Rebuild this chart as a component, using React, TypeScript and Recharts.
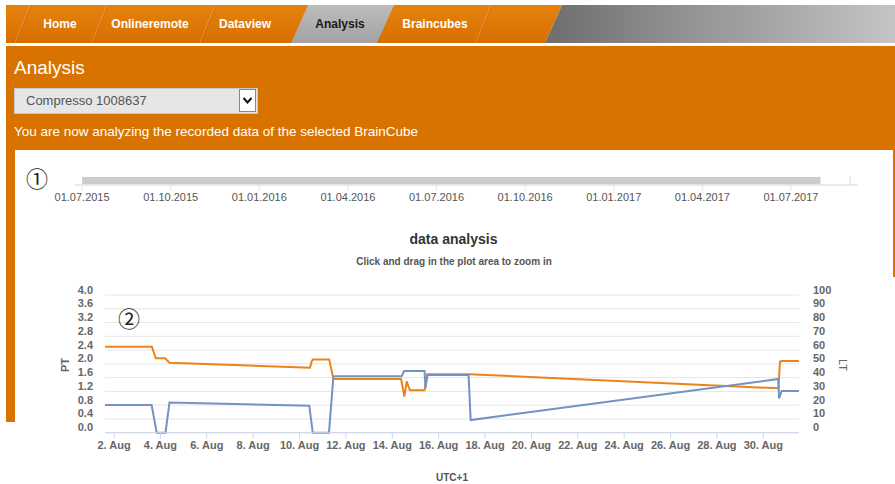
import React from 'react';
import {
  LineChart, Line, XAxis, YAxis, CartesianGrid, ComposedChart, Area,
  ReferenceLine, Label,
} from 'recharts';

// navigation tabs
const NAV_TABS = ['Home', 'Onlineremote', 'Dataview', 'Analysis', 'Braincubes'];

// navigator (months since 01.07.2015)
const NAV_MONTHS = [0, 3, 6, 9, 12, 15, 18, 21, 24];
const NAV_LABELS = ['01.07.2015', '01.10.2015', '01.01.2016', '01.04.2016', '01.07.2016', '01.10.2016', '01.01.2017', '01.04.2017', '01.07.2017'];
const NAV_RANGE = [0, 25];

// main chart, x = day of August (fractional)
const DAY_TICKS = [2, 4, 6, 8, 10, 12, 14, 16, 18, 20, 22, 24, 26, 28, 30];
const PT_TICKS = [0, 0.4, 0.8, 1.2, 1.6, 2.0, 2.4, 2.8, 3.2, 3.6, 4.0];
const LT_TICKS = [0, 10, 20, 30, 40, 50, 60, 70, 80, 90, 100];

const PT_TIME = [1.61, 3.63, 3.8, 4.2, 4.39, 10.45, 10.52, 10.57, 11.28, 11.46, 14.38, 14.52, 14.62, 14.76, 15.39, 15.5, 17.33, 30.65, 30.72, 30.79, 31.54];
const PT_VALUES = [2.5, 2.5, 2.16, 2.16, 2.03, 1.89, 2.06, 2.13, 2.13, 1.56, 1.56, 1.05, 1.49, 1.23, 1.23, 1.7, 1.7, 1.29, 2.06, 2.08, 2.08];

const LT_TIME = [1.61, 3.62, 3.73, 3.84, 4.22, 4.39, 10.42, 10.57, 11.27, 11.46, 14.4, 14.51, 15.39, 15.43, 15.52, 17.29, 17.38, 30.65, 30.68, 30.79, 31.54];
const LT_VALUES = [20.1, 20.1, 10, 0, 0, 21.9, 19.6, 0, 0, 41, 41, 44.8, 44.8, 32.3, 41.9, 41.9, 9.2, 39, 24.9, 30.3, 30.3];

const ptData = PT_TIME.map((t, i) => ({ t, v: PT_VALUES[i] }));
const ltData = LT_TIME.map((t, i) => ({ t, v: LT_VALUES[i] }));
const navBand = NAV_RANGE.map(m => ({ m, band: [0.1, 1] }));

const ORANGE = '#d97300';
const FONT = '"Liberation Sans", Arial, sans-serif';

const PtTick = (props: any) => {
  const { x, y, payload } = props;
  return (
    <text x={x} y={y - 1.5} textAnchor="end" fill="#666" fontSize={11} fontWeight="bold">
      {Number(payload.value).toFixed(1)}
    </text>
  );
};

const LtTick = (props: any) => {
  const { x, y, payload } = props;
  return (
    <text x={x} y={y - 1.5} textAnchor="start" fill="#666" fontSize={11} fontWeight="bold">
      {payload.value}
    </text>
  );
};

const NavBar = () => {
  const tabX = [60, 150, 245, 340, 435];
  const dividers = [30, 107, 215, 491];
  return (
    <svg width={895} height={43} style={{ position: 'absolute', left: 0, top: 0 }}>
      <defs>
        <linearGradient id="navOrange" x1="0" y1="0" x2="0" y2="1">
          <stop offset="0" stopColor="#e5820f" />
          <stop offset="1" stopColor="#d76f00" />
        </linearGradient>
        <linearGradient id="navGray" x1="0" y1="0" x2="1" y2="0">
          <stop offset="0" stopColor="#6e6e6e" />
          <stop offset="0.5" stopColor="#9a9a9a" />
          <stop offset="1" stopColor="#c4c4c4" />
        </linearGradient>
        <linearGradient id="tabGray" x1="0" y1="0" x2="0" y2="1">
          <stop offset="0" stopColor="#bdbdbd" />
          <stop offset="1" stopColor="#a2a2a2" />
        </linearGradient>
      </defs>
      <polygon points="6,5 562,5 545,43 6,43" fill="url(#navOrange)" />
      <polygon points="562,5 895,5 895,43 545,43" fill="url(#navGray)" />
      <polygon points="308,5 394,5 377,43 291,43" fill="url(#tabGray)" />
      {dividers.map(d => (
        <g key={d}>
          <line x1={d} y1={5} x2={d - 15} y2={43} stroke="rgba(255,255,255,0.25)" strokeWidth={1} />
          <line x1={d + 1} y1={5} x2={d - 14} y2={43} stroke="rgba(0,0,0,0.10)" strokeWidth={1} />
        </g>
      ))}
      {NAV_TABS.map((t, i) => (
        <text key={t} x={tabX[i]} y={28} textAnchor="middle" fontSize={12} fontWeight="bold"
          fontFamily={FONT} fill={t === 'Analysis' ? '#1a1a1a' : '#ffffff'}>{t}</text>
      ))}
    </svg>
  );
};

export default function App() {
  return (
    <div style={{ position: 'absolute', left: 0, top: 0, width: 895, height: 484, overflow: 'hidden', background: '#fff', fontFamily: FONT }}>
      <NavBar />
      {/* orange panel */}
      <div style={{ position: 'absolute', left: 6, top: 46, width: 889, height: 104, background: ORANGE }} />
      <div style={{ position: 'absolute', left: 6, top: 150, width: 8.5, height: 272, background: ORANGE }} />
      <div style={{ position: 'absolute', left: 893.3, top: 150, width: 2, height: 127, background: ORANGE }} />

      <div style={{ position: 'absolute', left: 14, top: 57, fontSize: 19, lineHeight: '22px', color: '#fff' }}>Analysis</div>
      <div style={{ position: 'absolute', left: 14, top: 88, width: 244, height: 26, background: '#e6e6e6', border: '1px solid #c9c9c9', boxSizing: 'border-box' }}>
        <div style={{ position: 'absolute', left: 11, top: 0, lineHeight: '24px', fontSize: 13, color: '#555' }}>Compresso 1008637</div>
        <div style={{ position: 'absolute', right: 1, top: 0, width: 17, height: 23, background: '#fff', border: '1px solid #888', boxSizing: 'border-box' }}>
          <svg width={15} height={21} style={{ position: 'absolute', left: 0, top: 0 }}>
            <polyline points="3.5,8 7.5,12.5 11.5,8" fill="none" stroke="#111" strokeWidth={2} />
          </svg>
        </div>
      </div>
      <div style={{ position: 'absolute', left: 14, top: 124, fontSize: 13.5, lineHeight: '16px', color: '#fff' }}>
        You are now analyzing the recorded data of the selected BrainCube
      </div>

      {/* navigator */}
      <div style={{ position: 'absolute', left: 0, top: 160 }}>
        <ComposedChart width={895} height={50} data={navBand} margin={{ top: 16.7, right: 37, bottom: 5, left: 75 }}>
          <XAxis dataKey="m" type="number" domain={[-0.24, 26.27]} ticks={NAV_MONTHS} interval={0}
            allowDataOverflow
            tickFormatter={(m: number) => NAV_LABELS[NAV_MONTHS.indexOf(m)]}
            height={20} stroke="#ccd6eb" tickLine={{ stroke: '#e6e6e6' }}
            tick={{ fill: '#555', fontSize: 11 }} />
          <YAxis hide domain={[0, 1]} allowDataOverflow />
          <Area dataKey="band" type="linear" fill="#cccccc" fillOpacity={1} stroke="none" dot={false} activeDot={false} isAnimationActive={false} />
          <ReferenceLine x={26} stroke="#ccd6eb" ifOverflow="visible" />
        </ComposedChart>
      </div>
      <div style={{ position: 'absolute', left: 26, top: 163, fontSize: 22, lineHeight: '28px', fontFamily: '"Noto Sans CJK JP", "DejaVu Sans"', color: '#222' }}>①</div>

      {/* titles */}
      <div style={{ position: 'absolute', left: 0, width: 907, top: 229, textAlign: 'center', fontSize: 14, fontWeight: 'bold', color: '#333', lineHeight: '20px' }}>data analysis</div>
      <div style={{ position: 'absolute', left: 0, width: 908, top: 255, textAlign: 'center', fontSize: 10, fontWeight: 'bold', color: '#555', lineHeight: '14px' }}>Click and drag in the plot area to zoom in</div>

      {/* main chart */}
      <div style={{ position: 'absolute', left: 0, top: 280 }}>
        <LineChart width={895} height={204} margin={{ top: 15, right: 0, bottom: 21.3, left: 0 }}>
          <CartesianGrid yAxisId="pt" vertical={false} stroke="#e6e6e6" />
          <XAxis dataKey="t" type="number" domain={[1.61, 31.54]} ticks={DAY_TICKS} interval={0}
            allowDataOverflow height={30} stroke="#ccd6eb" tickLine={{ stroke: '#ccd6eb' }}
            tickFormatter={(d: number) => `${d}. Aug`}
            tick={{ fill: '#666', fontSize: 11, fontWeight: 'bold' }}>
            <Label value="UTC+1" position="bottom" offset={11} fill="#555" fontSize={10} fontWeight="bold" />
          </XAxis>
          <YAxis yAxisId="pt" orientation="left" width={105} domain={[0, 4]} ticks={PT_TICKS} interval={0}
            axisLine={false} tickLine={false} tickSize={6} tickMargin={6} tick={<PtTick />}>
            <Label content={() => (
              <text x={65} y={85} transform="rotate(-90 65 85)" textAnchor="middle" dominantBaseline="central"
                fontSize={11} fontWeight="bold" fill="#666">PT</text>
            )} />
          </YAxis>
          <YAxis yAxisId="lt" orientation="right" width={96} domain={[0, 100]} ticks={LT_TICKS} interval={0}
            axisLine={false} tickLine={false} tickSize={6} tickMargin={8} tick={<LtTick />}>
            <Label content={() => (
              <text x={843} y={85} transform="rotate(90 843 85)" textAnchor="middle" dominantBaseline="central"
                fontSize={11} fill="#666">LT</text>
            )} />
          </YAxis>
          <Line yAxisId="pt" data={ptData} dataKey="v" type="linear" stroke="#ea8418" strokeWidth={2} dot={false} activeDot={false} isAnimationActive={false} />
          <Line yAxisId="lt" data={ltData} dataKey="v" type="linear" stroke="#7393c2" strokeWidth={2} dot={false} activeDot={false} isAnimationActive={false} />
        </LineChart>
      </div>
      <div style={{ position: 'absolute', left: 118, top: 303, fontSize: 22, lineHeight: '28px', fontFamily: '"Noto Sans CJK JP", "DejaVu Sans"', color: '#222' }}>②</div>
    </div>
  );
}
